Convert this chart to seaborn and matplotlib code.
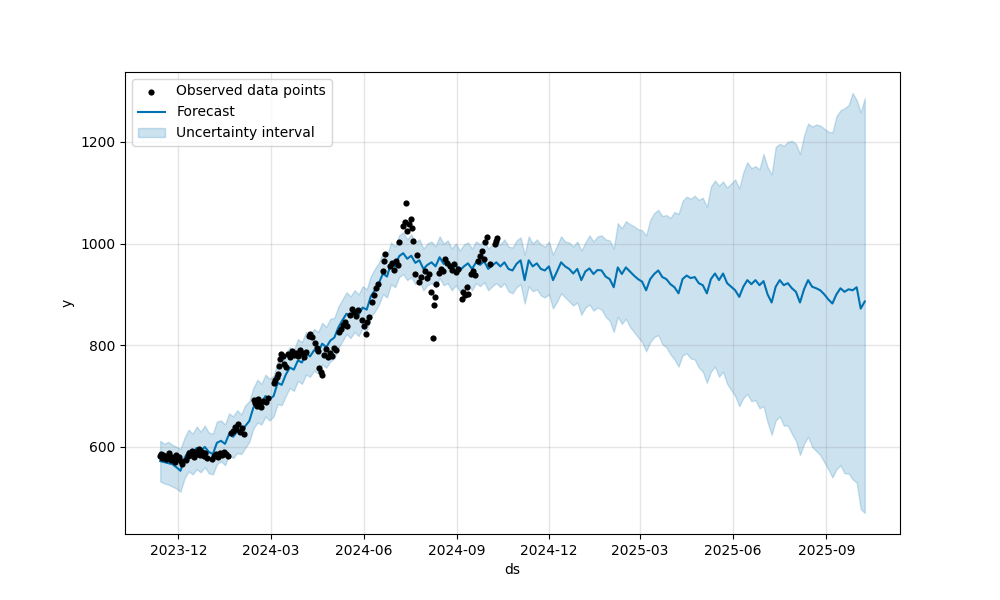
import pandas as pd
import seaborn as sns
import matplotlib
matplotlib.use('Agg')
import matplotlib.pyplot as plt
import matplotlib.dates as mdates

# Observed points
obs_dates = [
    '2023-11-13', '2023-11-14', '2023-11-15', '2023-11-16', '2023-11-17', '2023-11-19', '2023-11-20',
    '2023-11-21', '2023-11-22', '2023-11-24', '2023-11-25', '2023-11-27', '2023-11-28', '2023-11-29',
    '2023-12-01', '2023-12-02', '2023-12-04', '2023-12-05', '2023-12-08', '2023-12-10', '2023-12-11',
    '2023-12-13', '2023-12-14', '2023-12-16', '2023-12-18', '2023-12-19', '2023-12-21', '2023-12-22',
    '2023-12-24', '2023-12-26', '2023-12-27', '2023-12-29', '2024-01-03', '2024-01-05', '2024-01-07',
    '2024-01-09', '2024-01-11', '2024-01-13', '2024-01-15', '2024-01-17', '2024-01-19', '2024-01-22',
    '2024-01-24', '2024-01-26', '2024-01-27', '2024-01-29', '2024-01-31', '2024-02-02', '2024-02-04',
    '2024-02-14', '2024-02-15', '2024-02-17', '2024-02-18', '2024-02-20', '2024-02-21', '2024-02-23',
    '2024-02-25', '2024-02-27', '2024-03-04', '2024-03-05', '2024-03-07', '2024-03-08', '2024-03-09',
    '2024-03-10', '2024-03-11', '2024-03-13', '2024-03-14', '2024-03-16', '2024-03-18', '2024-03-20',
    '2024-03-22', '2024-03-24', '2024-03-26', '2024-03-28', '2024-03-30', '2024-04-01', '2024-04-03',
    '2024-04-05', '2024-04-08', '2024-04-09', '2024-04-11', '2024-04-14', '2024-04-16', '2024-04-17',
    '2024-04-18', '2024-04-20', '2024-04-21', '2024-04-23', '2024-04-25', '2024-04-27', '2024-04-29',
    '2024-05-01', '2024-05-03', '2024-05-05', '2024-05-08', '2024-05-10', '2024-05-12', '2024-05-14',
    '2024-05-16', '2024-05-18', '2024-05-20', '2024-05-22', '2024-05-24', '2024-05-26', '2024-05-30',
    '2024-06-01', '2024-06-03', '2024-06-04', '2024-06-06', '2024-06-09', '2024-06-11', '2024-06-13',
    '2024-06-15', '2024-06-20', '2024-06-21', '2024-06-22', '2024-06-27', '2024-06-29', '2024-07-01',
    '2024-07-03', '2024-07-05', '2024-07-06', '2024-07-10', '2024-07-12', '2024-07-13', '2024-07-14',
    '2024-07-16', '2024-07-18', '2024-07-19', '2024-07-20', '2024-07-22', '2024-07-24', '2024-07-26',
    '2024-07-28', '2024-08-01', '2024-08-03', '2024-08-05', '2024-08-06', '2024-08-08', '2024-08-09',
    '2024-08-10', '2024-08-11', '2024-08-14', '2024-08-16', '2024-08-18', '2024-08-20', '2024-08-22',
    '2024-08-25', '2024-08-27', '2024-08-29', '2024-08-31', '2024-09-02', '2024-09-06', '2024-09-07',
    '2024-09-09', '2024-09-11', '2024-09-12', '2024-09-15', '2024-09-17', '2024-09-19', '2024-09-22',
    '2024-09-24', '2024-09-26', '2024-09-28', '2024-09-29', '2024-10-01', '2024-10-04', '2024-10-09',
    '2024-10-10', '2024-10-11',
]
obs_values = [
    582, 586, 578, 584, 580, 576, 583,
    579, 588, 574, 581, 577, 570, 584,
    576, 580, 573, 567, 575, 582, 588,
    585, 592, 580, 590, 586, 596, 584,
    590, 582, 588, 578, 576, 582, 586,
    580, 588, 584, 590, 586, 583, 628,
    632, 640, 636, 646, 630, 638, 625,
    692, 686, 680, 694, 684, 678, 690,
    688, 696, 726, 732, 738, 744, 760,
    772, 782, 778, 764, 757, 782, 776,
    788, 780, 785, 778, 790, 784, 776,
    786, 818, 822, 816, 805, 795, 788,
    755, 748, 742, 780, 792, 776, 785,
    778, 795, 790, 826, 832, 840, 846,
    838, 860, 872, 866, 858, 870, 850,
    838, 822, 845, 855, 885, 898, 912,
    920, 945, 965, 980, 955, 962, 948,
    966, 958, 1003, 1035, 1042, 1080, 1025,
    1038, 1048, 1030, 1005, 940, 978, 925,
    935, 945, 932, 940, 905, 815, 880,
    895, 920, 942, 950, 945, 970, 962,
    955, 948, 960, 944, 950, 890, 905,
    898, 915, 900, 940, 945, 938, 965,
    975, 985, 970, 1002, 1012, 960, 1000,
    1005, 1010,
]

# Forecast, every 4 days from 2023-11-13
fcst_start = '2023-11-13'
yhat = [
    572, 570, 568, 566, 560, 553, 578, 592, 588, 598, 592, 600, 590, 586, 608, 612, 606, 625, 620, 630,
    626, 641, 651, 677, 690, 686, 700, 694, 700, 726, 722, 742, 756, 752, 770, 766, 784, 778, 790, 786,
    803, 796, 809, 815, 835, 849, 862, 856, 866, 860, 874, 870, 896, 908, 922, 941, 935, 961, 955, 975,
    981, 970, 976, 962, 967, 950, 958, 963, 955, 973, 960, 963, 950, 958, 947, 955, 961, 950, 963, 958,
    965, 950, 957, 963, 955, 963, 950, 947, 960, 967, 928, 967, 955, 961, 950, 947, 955, 928, 945, 963,
    955, 950, 941, 950, 928, 945, 951, 940, 948, 947, 935, 930, 914, 953, 940, 953, 945, 937, 930, 925,
    908, 930, 940, 947, 934, 930, 920, 914, 902, 930, 937, 932, 934, 922, 918, 902, 930, 941, 928, 941,
    922, 915, 908, 895, 915, 928, 920, 928, 918, 926, 900, 884, 915, 928, 918, 922, 912, 905, 884, 910,
    928, 915, 912, 908, 900, 890, 882, 900, 912, 905, 910, 908, 914, 872, 886,
]
yhat_upper = [
    612, 606, 610, 604, 600, 596, 618, 634, 626, 640, 630, 642, 628, 626, 650, 652, 644, 666, 660, 672,
    664, 682, 690, 716, 732, 724, 742, 734, 740, 768, 760, 784, 796, 790, 812, 806, 826, 818, 832, 826,
    844, 836, 852, 854, 876, 890, 904, 896, 908, 900, 916, 910, 936, 950, 962, 982, 976, 1002, 994, 1016,
    1022, 1008, 1018, 1002, 1008, 990, 1000, 1004, 994, 1014, 1000, 1006, 990, 1000, 986, 998, 1002, 990, 1004, 998,
    1008, 990, 998, 1004, 998, 1008, 994, 992, 1006, 1012, 978, 1014, 1000, 1008, 998, 994, 1004, 978, 996, 1014,
    1004, 1002, 994, 1004, 986, 1002, 1016, 1004, 1014, 1016, 1008, 1006, 990, 1040, 1030, 1044, 1038, 1034, 1028, 1026,
    1016, 1046, 1060, 1066, 1054, 1056, 1050, 1062, 1058, 1084, 1092, 1088, 1094, 1086, 1090, 1072, 1112, 1124, 1114, 1122,
    1110, 1118, 1126, 1108, 1140, 1160, 1148, 1152, 1146, 1176, 1150, 1136, 1190, 1196, 1192, 1200, 1202, 1196, 1176, 1212,
    1236, 1230, 1234, 1232, 1226, 1220, 1218, 1250, 1262, 1266, 1272, 1296, 1282, 1258, 1286,
]
yhat_lower = [
    532, 528, 526, 522, 518, 512, 538, 552, 546, 556, 550, 560, 548, 546, 566, 572, 564, 584, 578, 588,
    586, 598, 610, 636, 648, 644, 660, 652, 660, 684, 682, 700, 716, 710, 730, 724, 742, 738, 750, 744,
    762, 756, 768, 774, 794, 808, 822, 814, 826, 818, 834, 828, 856, 866, 880, 900, 894, 920, 914, 934,
    940, 928, 934, 920, 926, 908, 918, 922, 914, 932, 918, 922, 908, 918, 906, 914, 920, 908, 922, 916,
    924, 908, 916, 922, 914, 922, 906, 902, 914, 920, 882, 916, 906, 910, 898, 894, 900, 872, 886, 902,
    894, 886, 878, 884, 860, 874, 880, 868, 874, 870, 856, 848, 826, 856, 842, 852, 836, 826, 816, 806,
    788, 806, 816, 820, 802, 796, 782, 772, 758, 780, 784, 774, 772, 756, 748, 726, 748, 758, 738, 748,
    724, 712, 700, 680, 696, 704, 690, 692, 676, 680, 648, 624, 652, 660, 642, 642, 626, 612, 584, 606,
    620, 600, 592, 584, 570, 556, 540, 556, 564, 548, 548, 536, 530, 478, 470,
]

obs = pd.DataFrame({'ds': pd.to_datetime(obs_dates), 'y': obs_values})
fcst = pd.DataFrame({
    'ds': pd.date_range(fcst_start, periods=len(yhat), freq='4D'),
    'yhat': yhat,
    'yhat_lower': yhat_lower,
    'yhat_upper': yhat_upper,
})

fig, ax = plt.subplots(figsize=(10, 6), dpi=100)
fig.subplots_adjust(left=0.125, right=0.9, top=0.88, bottom=0.11)

sns.scatterplot(data=obs, x='ds', y='y', color='k', s=20, linewidth=0,
                label='Observed data points', ax=ax, zorder=3)
sns.lineplot(data=fcst, x='ds', y='yhat', color='#0072B2', linewidth=1.5,
             label='Forecast', ax=ax)
ax.fill_between(fcst['ds'], fcst['yhat_lower'], fcst['yhat_upper'],
                color='#0072B2', alpha=0.2, label='Uncertainty interval')

ax.grid(True, which='major', c='gray', ls='-', lw=1, alpha=0.2)
ax.xaxis.set_major_locator(mdates.MonthLocator(bymonth=[3, 6, 9, 12]))
ax.xaxis.set_major_formatter(mdates.DateFormatter('%Y-%m'))
ax.set_xlabel('ds')
ax.set_ylabel('y')
ax.legend(loc='upper left')

fig.savefig('out.png', dpi=100)
